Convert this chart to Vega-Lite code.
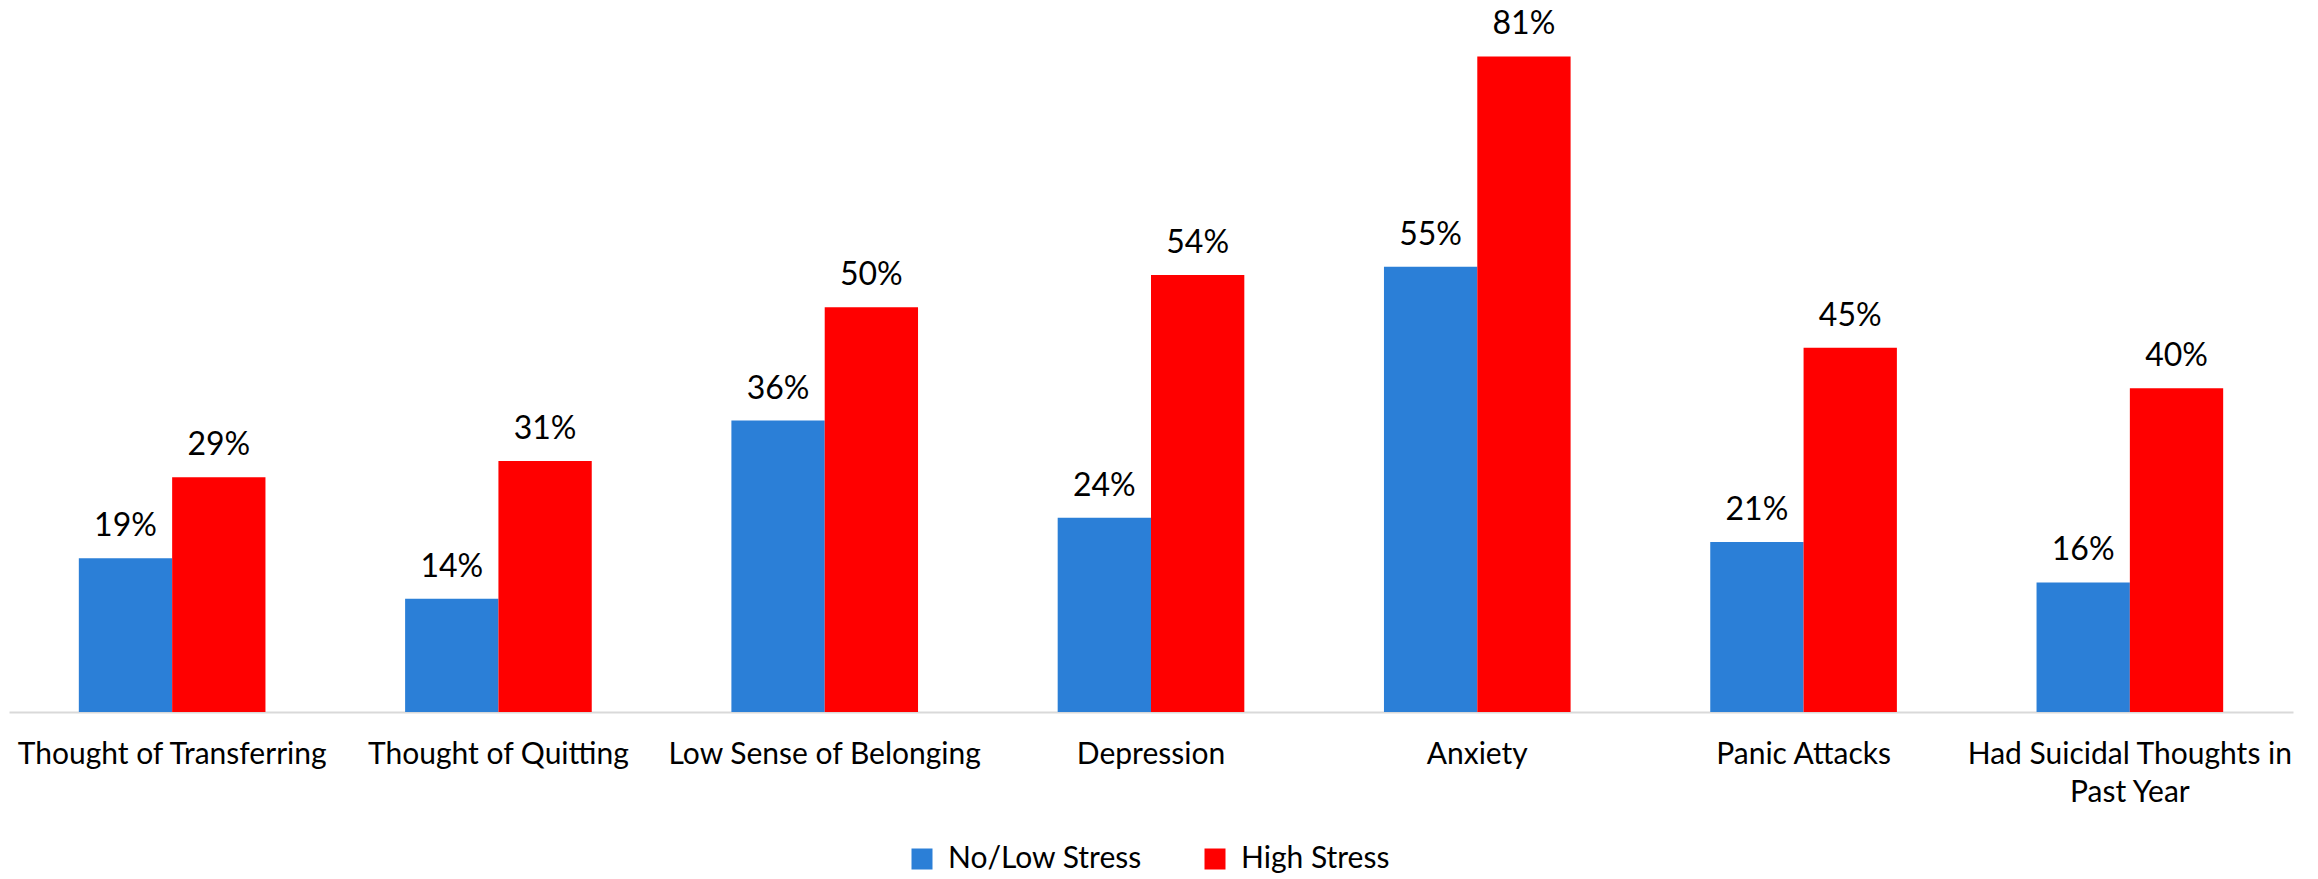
{
  "$schema": "https://vega.github.io/schema/vega-lite/v6.json",
  "autosize": {"type": "none"},
  "width": 2284,
  "height": 688,
  "padding": {"left": 9, "top": 24, "right": 25, "bottom": 167},
  "background": "white",
  "config": {"view": {"stroke": null}, "font": "Lato"},
  "data": {
    "values": [
      {"measure": "Thought of Transferring", "group": "No/Low Stress", "pct": 0.19},
      {"measure": "Thought of Transferring", "group": "High Stress", "pct": 0.29},
      {"measure": "Thought of Quitting", "group": "No/Low Stress", "pct": 0.14},
      {"measure": "Thought of Quitting", "group": "High Stress", "pct": 0.31},
      {"measure": "Low Sense of Belonging", "group": "No/Low Stress", "pct": 0.36},
      {"measure": "Low Sense of Belonging", "group": "High Stress", "pct": 0.50},
      {"measure": "Depression", "group": "No/Low Stress", "pct": 0.24},
      {"measure": "Depression", "group": "High Stress", "pct": 0.54},
      {"measure": "Anxiety", "group": "No/Low Stress", "pct": 0.55},
      {"measure": "Anxiety", "group": "High Stress", "pct": 0.81},
      {"measure": "Panic Attacks", "group": "No/Low Stress", "pct": 0.21},
      {"measure": "Panic Attacks", "group": "High Stress", "pct": 0.45},
      {"measure": "Had Suicidal Thoughts in Past Year", "group": "No/Low Stress", "pct": 0.16},
      {"measure": "Had Suicidal Thoughts in Past Year", "group": "High Stress", "pct": 0.40}
    ]
  },
  "encoding": {
    "x": {
      "field": "measure",
      "type": "nominal",
      "sort": ["Thought of Transferring", "Thought of Quitting", "Low Sense of Belonging", "Depression", "Anxiety", "Panic Attacks", "Had Suicidal Thoughts in Past Year"],
      "scale": {"paddingInner": 0.428, "paddingOuter": 0.214},
      "axis": {
        "title": null,
        "domainColor": "#d9d9d9",
        "domainWidth": 2,
        "ticks": false,
        "tickSize": 0,
        "labelAngle": 0,
        "labelFontSize": 30,
        "labelColor": "#000000",
        "labelBaseline": "alphabetic",
        "labelPadding": 51,
        "labelLimit": 0,
        "labelLineHeight": 38,
        "labelExpr": "datum.label == 'Had Suicidal Thoughts in Past Year' ? ['Had Suicidal Thoughts in', 'Past Year'] : datum.label"
      }
    },
    "xOffset": {
      "field": "group",
      "type": "nominal",
      "sort": ["No/Low Stress", "High Stress"],
      "scale": {"paddingInner": 0, "paddingOuter": 0}
    },
    "y": {
      "field": "pct",
      "type": "quantitative",
      "scale": {"domain": [0, 0.85], "nice": false, "zero": true},
      "axis": null
    }
  },
  "layer": [
    {
      "mark": {"type": "bar"},
      "encoding": {
        "color": {
          "field": "group",
          "type": "nominal",
          "sort": ["No/Low Stress", "High Stress"],
          "scale": {"domain": ["No/Low Stress", "High Stress"], "range": ["#2B7FD7", "#FF0000"]},
          "legend": {
            "orient": "none",
            "legendX": 898,
            "legendY": 820,
            "direction": "horizontal",
            "title": null,
            "symbolType": "square",
            "symbolSize": 441,
            "symbolStrokeWidth": 0,
            "symbolOpacity": 1,
            "labelFontSize": 30,
            "labelColor": "#000000",
            "labelOffset": 11,
            "labelLimit": 0,
            "columnPadding": 58,
            "padding": 0
          }
        }
      }
    },
    {
      "mark": {"type": "text", "baseline": "alphabetic", "dy": -22, "fontSize": 32, "color": "#000000"},
      "encoding": {
        "text": {"field": "pct", "type": "quantitative", "format": ".0%"}
      }
    }
  ]
}
